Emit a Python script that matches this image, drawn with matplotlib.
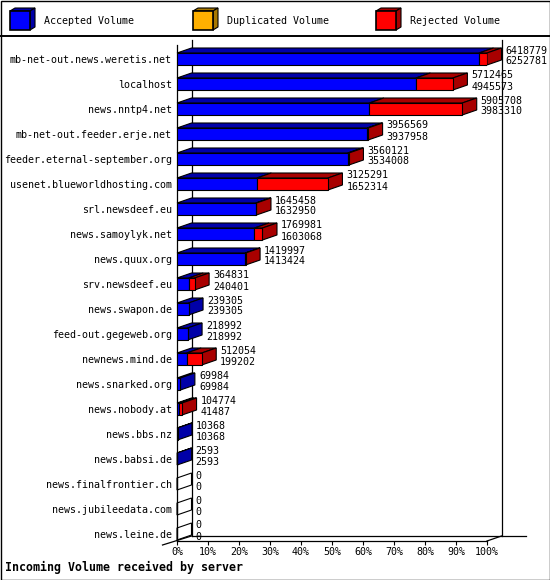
import matplotlib.pyplot as plt
from matplotlib.patches import Polygon, Rectangle
import numpy as np

servers = ['mb-net-out.news.weretis.net', 'localhost', 'news.nntp4.net',
           'mb-net-out.feeder.erje.net', 'feeder.eternal-september.org',
           'usenet.blueworldhosting.com', 'srl.newsdeef.eu', 'news.samoylyk.net',
           'news.quux.org', 'srv.newsdeef.eu', 'news.swapon.de',
           'feed-out.gegeweb.org', 'newnews.mind.de', 'news.snarked.org',
           'news.nobody.at', 'news.bbs.nz', 'news.babsi.de',
           'news.finalfrontier.ch', 'news.jubileedata.com', 'news.leine.de']
total = [6418779, 5712465, 5905708, 3956569, 3560121, 3125291, 1645458, 1769981,
         1419997, 364831, 239305, 218992, 512054, 69984, 104774, 10368, 2593,
         0, 0, 0]
accepted = [6252781, 4945573, 3983310, 3937958, 3534008, 1652314, 1632950, 1603068,
            1413424, 240401, 239305, 218992, 199202, 69984, 41487, 10368, 2593,
            0, 0, 0]
legend_names = ['Accepted Volume', 'Duplicated Volume', 'Rejected Volume']

BLUE, DBLUE = '#0000ff', '#0000a8'
ORANGE, DORANGE = '#ffb000', '#a87800'
RED, DRED = '#ff0000', '#a80000'

plt.rcParams['font.family'] = 'DejaVu Sans Mono'
plt.rcParams['font.size'] = 7.2

W, H = 550, 580
fig = plt.figure(figsize=(W / 100, H / 100), dpi=100)

# background / frame in pixel units
bg = fig.add_axes([0, 0, 1, 1])
bg.set_xlim(0, W)
bg.set_ylim(H, 0)
bg.axis('off')
bg.add_patch(Rectangle((0.5, 0.5), W - 1, H - 1, fill=False, ec='black', lw=1.0))
bg.plot([0, W], [36, 36], color='black', lw=1.4)

# legend cubes
for lx, name, fc, dc in zip([10, 193, 376], legend_names,
                            [BLUE, ORANGE, RED], [DBLUE, DORANGE, DRED]):
    x0, x1, y0, y1, d, e = lx, lx + 20, 11, 30, 5, 3
    bg.add_patch(Polygon([(x0, y0), (x1, y0), (x1 + d, y0 - e), (x0 + d, y0 - e)],
                         fc=dc, ec='black', lw=0.8))
    bg.add_patch(Polygon([(x1, y0), (x1, y1), (x1 + d, y1 - e), (x1 + d, y0 - e)],
                         fc=dc, ec='black', lw=0.8))
    bg.add_patch(Rectangle((x0, y0), 20, 19, fc=fc, ec='black', lw=1.2))
    bg.text(x1 + 14, 21, name, va='center', ha='left')

bg.text(5, 567, 'Incoming Volume received by server', fontsize=8.4,
        fontweight='bold', va='center', ha='left')

# main plot
ax = fig.add_axes([177 / W, (H - 541) / H, 310 / W, 496 / H])
ytop, ybot = -0.56, 19.28
ax.set_xlim(0, 100)
ax.set_ylim(ybot, ytop)
ax.patch.set_alpha(0)
for k in ['top', 'right']:
    ax.spines[k].set_visible(False)
for k in ['left', 'bottom']:
    ax.spines[k].set_linewidth(0.9)

DX = 14.5 / 3.1   # depth in % units
DY = 0.2          # depth in row units
HH = 0.24         # half bar height

lk = dict(color='black', lw=0.9, clip_on=False, zorder=1)
ax.plot([DX, DX], [ytop - DY, ybot - DY], **lk)
ax.plot([100 + DX, 100 + DX], [ytop - DY, ybot - DY], **lk)
ax.plot([DX, 100 + DX + 8], [ybot - DY, ybot - DY], **lk)
ax.plot([-DX, DX], [ybot + 0.16, ybot - DY], **lk)
ax.plot([100, 100 + DX], [ybot, ybot - DY], **lk)

top = max(total)
acc_pct = np.array(accepted) / top * 100
tot_pct = np.array(total) / top * 100
rej_pct = tot_pct - acc_pct
rows = np.arange(len(servers))

ax.barh(rows, acc_pct, height=2 * HH, color=BLUE, edgecolor='black', lw=0.8,
        zorder=3)
ax.barh(rows, rej_pct, left=acc_pct, height=2 * HH, color=RED, edgecolor='black',
        lw=0.8, zorder=3)

for r, a, t in zip(rows, acc_pct, tot_pct):
    yt, yb = r - HH, r + HH
    for x0, x1, dc in [(0, a, DBLUE), (a, t, DRED)]:
        if x1 - x0 > 0:
            ax.add_patch(Polygon([(x0, yt), (x1, yt), (x1 + DX, yt - DY),
                                  (x0 + DX, yt - DY)], fc=dc, ec='black',
                                 lw=0.8, zorder=2, clip_on=False))
    side = 'none' if t == 0 else (DRED if t > a else DBLUE)
    ax.add_patch(Polygon([(t, yt), (t, yb), (t + DX, yb - DY), (t + DX, yt - DY)],
                         fc=side, ec='black', lw=0.8, zorder=2, clip_on=False))

for r, t, tv, av in zip(rows, tot_pct, total, accepted):
    ax.text(t + DX + 1.3, r - 0.34, str(tv), va='center', ha='left', clip_on=False)
    ax.text(t + DX + 1.3, r + 0.1, str(av), va='center', ha='left', clip_on=False)

ax.set_yticks(rows, servers)
ax.tick_params(axis='y', length=0, pad=3.6)
ax.set_xticks(range(0, 101, 10), [f'{v}%' for v in range(0, 101, 10)])
ax.tick_params(axis='x', length=3, width=0.8, pad=1.5, direction='out')

fig.savefig('out.png', dpi=100)
